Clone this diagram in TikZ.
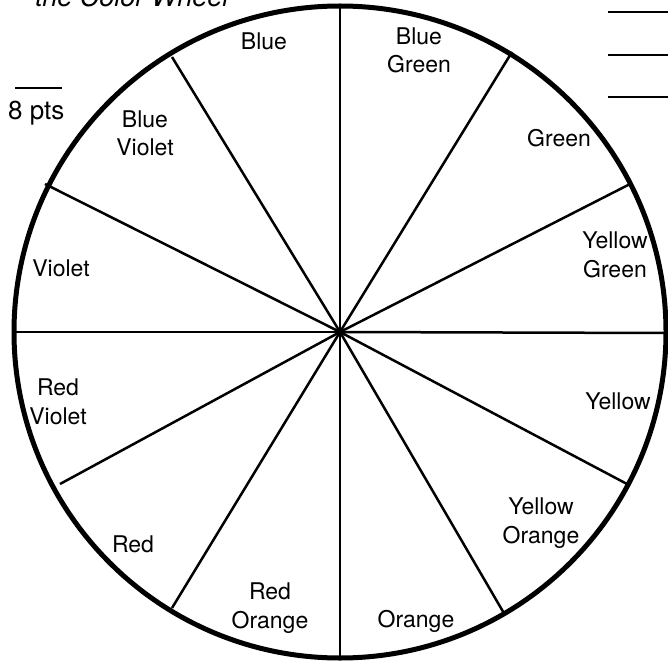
\documentclass[tikz,border=0pt]{standalone}
\usepackage{fontspec}
\setmainfont{TeX Gyre Heros}
\begin{document}
\begin{tikzpicture}[x=1pt,y=-1pt,
  spoke/.style={line width=2.5pt},
  rim/.style={line width=5pt},
  rule/.style={line width=1.8pt},
  lbl/.style={font=\fontsize{23}{28.5}\selectfont, align=center, inner sep=0pt, anchor=base}]
\useasboundingbox (0,0) rectangle (668,660);
\coordinate (c) at (340,332);
% spoke ends
\coordinate (n) at (340,5);
\coordinate (s) at (340,658);
\coordinate (w) at (13,332);
\coordinate (e) at (667,333);
\coordinate (nw1) at (172,57);
\coordinate (ne1) at (512,52);
\coordinate (nw2) at (45,184);
\coordinate (ne2) at (632,183);
\coordinate (sw2) at (60,484);
\coordinate (se2) at (627,484);
\coordinate (sw1) at (172,608);
\coordinate (se1) at (505,615);
\foreach \p in {n,s,w,e,nw1,ne1,nw2,ne2,sw2,se2,sw1,se1} \draw[spoke] (c) -- (\p);
\draw[rim] (c) circle[radius=326pt];
% labels
\node[lbl] (blue) at (264,50) {Blue};
\node[lbl] (bg) at (419,73) {Blue\\Green};
\node[lbl] (bv) at (145,156) {Blue\\Violet};
\node[lbl] (green) at (559,147) {Green};
\node[lbl] (yg) at (615,277) {Yellow\\Green};
\node[lbl] (violet) at (61,276) {Violet};
\node[lbl] (rv) at (58,424) {Red\\Violet};
\node[lbl] (yellow) at (618,409) {Yellow};
\node[lbl] (yo) at (541,543) {Yellow\\Orange};
\node[lbl] (red) at (133,552) {Red};
\node[lbl] (ro) at (270,628) {Red\\Orange};
\node[lbl] (orange) at (416,627) {Orange};
% title and score
\node[font=\fontsize{27}{30}\selectfont\itshape, inner sep=0pt, anchor=base west] (title) at (35,7) {the Color Wheel};
\node[font=\fontsize{26}{30}\selectfont, inner sep=0pt, anchor=base west] (pts) at (8,120) {8 pts};
\coordinate (pa) at (15,88); \coordinate (pb) at (62,88);
\draw[rule] (pa) -- (pb);
\coordinate (r1a) at (608,12); \coordinate (r1b) at (668,12);
\coordinate (r2a) at (608,55); \coordinate (r2b) at (668,55);
\coordinate (r3a) at (608,97); \coordinate (r3b) at (668,97);
\draw[rule] (r1a) -- (r1b);
\draw[rule] (r2a) -- (r2b);
\draw[rule] (r3a) -- (r3b);
\end{tikzpicture}
\end{document}
